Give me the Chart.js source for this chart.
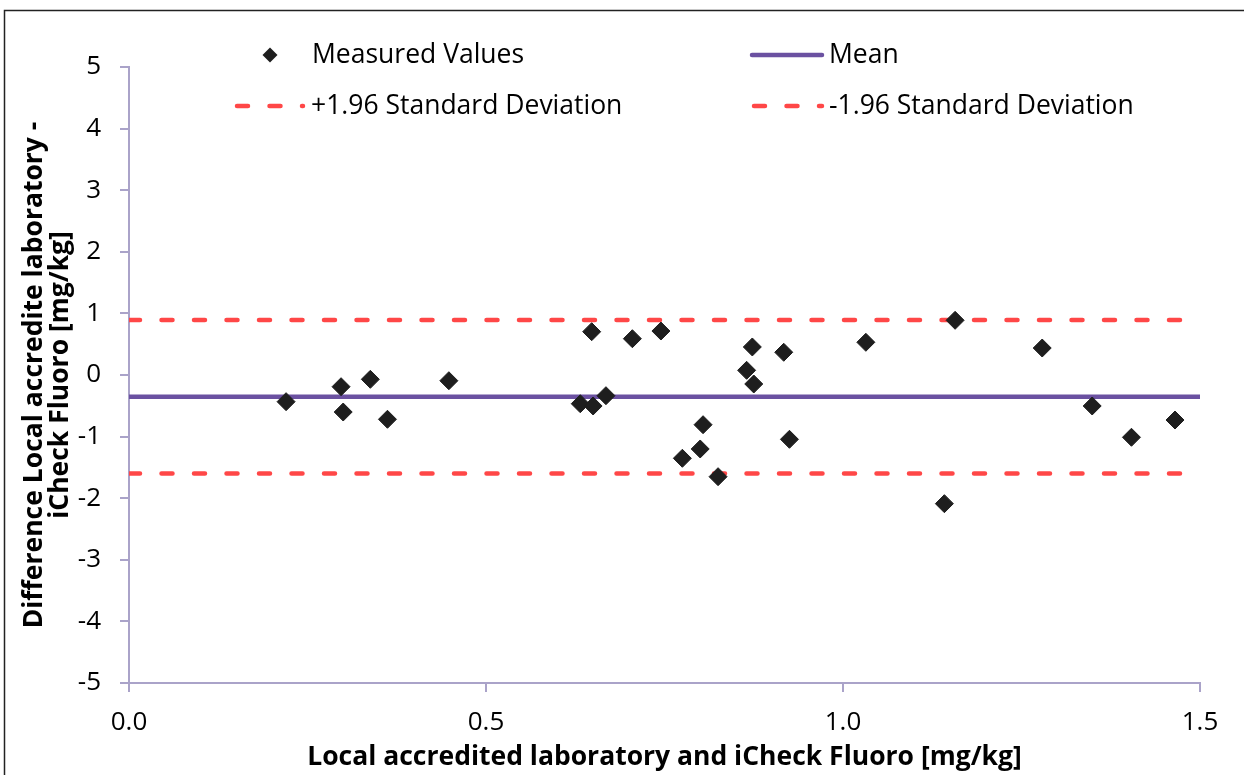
<!DOCTYPE html>
<html>
<head>
<meta charset="utf-8">
<script src="https://cdn.jsdelivr.net/npm/chart.js@4.4.1/dist/chart.umd.min.js"></script>
<style>
  html, body { margin: 0; padding: 0; background: #fff; overflow: hidden; }
  #wrap { width: 1244px; height: 775px; }
</style>
</head>
<body>
<div id="wrap"><canvas id="grafico" width="1244" height="775"></canvas></div>
<script>
// Valores medidos (eje x: media, eje y: diferencia)
const xValues = [0.220, 0.297, 0.300, 0.338, 0.362, 0.448, 0.632, 0.648, 0.650, 0.668,
                 0.705, 0.745, 0.775, 0.800, 0.804, 0.825, 0.865, 0.873, 0.875, 0.917,
                 0.925, 1.032, 1.142, 1.157, 1.279, 1.349, 1.404, 1.465];
const yValues = [-0.433, -0.190, -0.601, -0.070, -0.719, -0.093, -0.466, 0.703, -0.503, -0.336,
                 0.589, 0.714, -1.352, -1.201, -0.807, -1.651, 0.076, 0.455, -0.146, 0.369,
                 -1.044, 0.531, -2.089, 0.888, 0.438, -0.503, -1.011, -0.731];

// Líneas de referencia
const lineX = [0, 1.5];
const meanValues = [-0.354, -0.354];
const upperValues = [0.891, 0.891];
const lowerValues = [-1.599, -1.599];

const xTicks = [0, 0.5, 1.0, 1.5];
const yTicks = [-5, -4, -3, -2, -1, 0, 1, 2, 3, 4, 5];

const axisColor = '#aaa3c9';
const fontFamily = "'Open Sans', 'Noto Sans', sans-serif";

const toPoints = (xs, ys) => xs.map((x, i) => ({x: x, y: ys[i]}));

// Marco alrededor del gráfico
const marco = {
    id: 'marco',
    beforeDraw(chart) {
        const ctx = chart.ctx;
        ctx.save();
        ctx.strokeStyle = '#222';
        ctx.lineWidth = 1.5;
        ctx.strokeRect(4.5, 10.5, 1400, 900);
        ctx.restore();
    }
};

// Leyenda en dos filas, dentro del área del gráfico
const leyenda = {
    id: 'leyenda',
    afterDraw(chart) {
        const ctx = chart.ctx;
        const ds = chart.data.datasets;
        const items = [
            {ds: ds[0], mx: 270, y: 55, tx: 312},
            {ds: ds[1], x0: 752, x1: 822, y: 55, tx: 829},
            {ds: ds[2], x0: 237, x1: 303, y: 106, tx: 311},
            {ds: ds[3], x0: 754, x1: 822, y: 106, tx: 829}
        ];
        ctx.save();
        items.forEach(it => {
            if (it.mx) {
                ctx.fillStyle = it.ds.backgroundColor;
                ctx.beginPath();
                ctx.moveTo(it.mx, it.y - 7.5);
                ctx.lineTo(it.mx + 7.5, it.y);
                ctx.lineTo(it.mx, it.y + 7.5);
                ctx.lineTo(it.mx - 7.5, it.y);
                ctx.closePath();
                ctx.fill();
            } else {
                ctx.beginPath();
                ctx.strokeStyle = it.ds.borderColor;
                ctx.lineWidth = it.ds.borderWidth;
                ctx.lineCap = 'round';
                ctx.setLineDash(it.ds.borderDash || []);
                ctx.moveTo(it.x0, it.y);
                ctx.lineTo(it.x1, it.y);
                ctx.stroke();
                ctx.setLineDash([]);
            }
            ctx.fillStyle = '#000';
            ctx.font = '26.5px ' + fontFamily;
            ctx.textAlign = 'left';
            ctx.textBaseline = 'middle';
            ctx.fillText(it.ds.label, it.tx, it.y);
        });
        ctx.restore();
    }
};

new Chart(document.getElementById('grafico'), {
    type: 'scatter',
    data: {
        datasets: [{
            label: 'Measured Values',
            data: toPoints(xValues, yValues),
            pointStyle: 'rectRot',
            pointRadius: 9,
            pointHoverRadius: 9,
            backgroundColor: '#1e1e1e',
            borderColor: '#1e1e1e',
            borderWidth: 1,
            order: 0
        }, {
            label: 'Mean',
            data: toPoints(lineX, meanValues),
            showLine: true,
            borderColor: '#6b51a1',
            borderWidth: 4.5,
            pointRadius: 0,
            order: 1
        }, {
            label: '+1.96 Standard Deviation',
            data: toPoints(lineX, upperValues),
            showLine: true,
            borderColor: '#ff4747',
            borderWidth: 4.5,
            borderDash: [11, 21.5],
            borderCapStyle: 'round',
            pointRadius: 0,
            order: 1
        }, {
            label: '-1.96 Standard Deviation',
            data: toPoints(lineX, lowerValues),
            showLine: true,
            borderColor: '#ff4747',
            borderWidth: 4.5,
            borderDash: [11, 21.5],
            borderCapStyle: 'round',
            pointRadius: 0,
            order: 1
        }]
    },
    options: {
        responsive: false,
        animation: false,
        devicePixelRatio: 1,
        layout: { padding: { left: 5, top: 67, right: 44, bottom: 0 } },
        plugins: {
            legend: { display: false },
            tooltip: { enabled: false }
        },
        scales: {
            x: {
                type: 'linear',
                min: 0,
                max: 1.5,
                afterBuildTicks: axis => { axis.ticks = xTicks.map(v => ({value: v})); },
                afterFit: axis => { axis.height = 92; },
                border: { color: axisColor, width: 2 },
                grid: { drawOnChartArea: false, color: axisColor, lineWidth: 2, tickLength: 9 },
                ticks: {
                    color: '#000',
                    padding: 15,
                    font: { family: fontFamily, size: 26 },
                    callback: v => v.toFixed(1)
                },
                title: {
                    display: true,
                    text: 'Local accredited laboratory and iCheck Fluoro [mg/kg]',
                    color: '#000',
                    padding: { top: 0, bottom: 3 },
                    font: { family: fontFamily, size: 26.5, weight: 'bold', lineHeight: 1.07 }
                }
            },
            y: {
                type: 'linear',
                min: -5,
                max: 5,
                afterBuildTicks: axis => { axis.ticks = yTicks.map(v => ({value: v})); },
                afterFit: axis => { axis.width = 124; },
                border: { color: axisColor, width: 2 },
                grid: { drawOnChartArea: false, color: axisColor, lineWidth: 2, tickLength: 9 },
                ticks: {
                    color: '#000',
                    padding: 19,
                    font: { family: fontFamily, size: 26 }
                },
                title: {
                    display: true,
                    text: ['Difference Local accredite laboratory -', 'iCheck Fluoro [mg/kg]'],
                    color: '#000',
                    padding: { top: 16, bottom: 0 },
                    font: { family: fontFamily, size: 26.5, weight: 'bold', lineHeight: 1.0 }
                }
            }
        }
    },
    plugins: [marco, leyenda]
});
</script>
</body>
</html>
